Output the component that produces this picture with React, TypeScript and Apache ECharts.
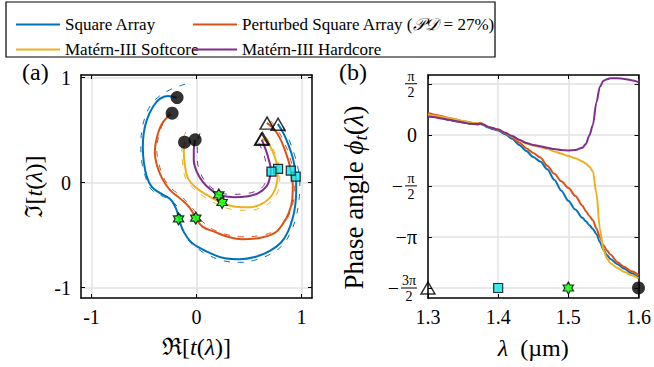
import React, { useEffect, useRef } from 'react';
import * as echarts from 'echarts';

const SERIF = "'Liberation Serif', 'Times New Roman', serif";
const colors = ['#0072BD', '#D95319', '#EDB120', '#7E2F8E'];
const seriesNames = ['Square Array', 'Perturbed Square Array', 'Matérn-III Softcore', 'Matérn-III Hardcore'];

// ---- Panel (a): complex transmission t(λ), solid curves ----
const squareRe = [0.774, 0.831, 0.879, 0.917, 0.936, 0.946, 0.950, 0.941, 0.917, 0.870, 0.803, 0.699, 0.565, 0.412, 0.270, 0.146, 0.030, -0.054, -0.121, -0.159, -0.178, -0.207, -0.254, -0.350, -0.426, -0.473, -0.502, -0.511, -0.502, -0.473, -0.416, -0.350, -0.273, -0.188];
const squareIm = [0.559, 0.464, 0.350, 0.235, 0.140, 0.054, -0.070, -0.212, -0.336, -0.470, -0.574, -0.650, -0.707, -0.731, -0.722, -0.679, -0.622, -0.565, -0.470, -0.374, -0.298, -0.222, -0.155, -0.098, -0.041, 0.054, 0.197, 0.340, 0.473, 0.597, 0.721, 0.797, 0.826, 0.807];
const perturbedRe = [0.670, 0.736, 0.793, 0.841, 0.879, 0.898, 0.917, 0.912, 0.879, 0.822, 0.746, 0.584, 0.431, 0.298, 0.174, 0.060, -0.007, -0.064, -0.140, -0.254, -0.330, -0.378, -0.397, -0.378, -0.330, -0.245];
const perturbedIm = [0.569, 0.511, 0.426, 0.311, 0.197, 0.111, -0.022, -0.165, -0.289, -0.394, -0.479, -0.531, -0.541, -0.517, -0.470, -0.422, -0.336, -0.241, -0.165, -0.070, 0.045, 0.169, 0.292, 0.426, 0.559, 0.654];
const softRe = [0.622, 0.679, 0.727, 0.760, 0.774, 0.770, 0.746, 0.698, 0.622, 0.508, 0.374, 0.241, 0.098, -0.016, -0.083, -0.111, -0.121, -0.114];
const softIm = [0.416, 0.378, 0.292, 0.197, 0.121, 0.026, -0.070, -0.146, -0.203, -0.236, -0.231, -0.193, -0.117, -0.041, 0.045, 0.169, 0.292, 0.385];
const hardRe = [0.622, 0.660, 0.689, 0.708, 0.698, 0.670, 0.593, 0.489, 0.365, 0.270, 0.212, 0.127, 0.060, 0.003, -0.026, -0.026, -0.013];
const hardIm = [0.407, 0.311, 0.216, 0.121, 0.045, -0.031, -0.098, -0.131, -0.141, -0.131, -0.117, -0.060, 0.007, 0.102, 0.216, 0.311, 0.407];

// ---- Panel (a): dashed companion curves ----
const squareDashRe = [0.822, 0.889, 0.936, 0.970, 0.984, 0.974, 0.946, 0.898, 0.822, 0.708, 0.565, 0.412, 0.260, 0.127, 0.012, -0.073, -0.130, -0.149, -0.168, -0.235, -0.350, -0.435, -0.483, -0.521, -0.530, -0.521, -0.492, -0.435, -0.350, -0.254, -0.159, -0.102];
const squareDashIm = [0.530, 0.388, 0.254, 0.121, -0.022, -0.184, -0.336, -0.470, -0.593, -0.679, -0.736, -0.760, -0.746, -0.698, -0.631, -0.555, -0.450, -0.336, -0.260, -0.174, -0.117, -0.060, 0.045, 0.197, 0.350, 0.492, 0.616, 0.740, 0.826, 0.883, 0.921, 0.940];
const perturbedDashRe = [0.708, 0.784, 0.841, 0.889, 0.917, 0.936, 0.927, 0.889, 0.822, 0.727, 0.584, 0.431, 0.298, 0.184, 0.079, 0.003, -0.064, -0.150, -0.254, -0.321, -0.359, -0.378, -0.359, -0.311, -0.254, -0.197];
const perturbedDashIm = [0.588, 0.483, 0.369, 0.245, 0.121, -0.012, -0.155, -0.289, -0.403, -0.470, -0.508, -0.517, -0.498, -0.460, -0.393, -0.298, -0.212, -0.127, -0.041, 0.064, 0.188, 0.311, 0.445, 0.578, 0.673, 0.730];
const softDashRe = [0.660, 0.717, 0.760, 0.789, 0.793, 0.774, 0.717, 0.631, 0.508, 0.374, 0.231, 0.089, -0.026, -0.102, -0.130, -0.140, -0.121, -0.092];
const softDashIm = [0.435, 0.350, 0.245, 0.140, 0.026, -0.089, -0.174, -0.231, -0.265, -0.260, -0.222, -0.146, -0.060, 0.035, 0.169, 0.311, 0.435, 0.502];
const hardDashRe = [0.593, 0.632, 0.660, 0.674, 0.660, 0.622, 0.546, 0.450, 0.346, 0.241, 0.146, 0.079, 0.031, 0.008, 0.008, 0.022, 0.050];
const hardDashIm = [0.378, 0.292, 0.197, 0.102, 0.016, -0.050, -0.089, -0.108, -0.112, -0.103, -0.050, 0.016, 0.111, 0.216, 0.330, 0.435, 0.511];

// ---- Panel (a): markers at λ = 1.3, 1.4, 1.5, 1.6 µm (one per array) ----
const triangle13 = [[0.777, 0.556], [0.672, 0.566], [0.619, 0.413], [0.628, 0.420]];
const square14 = [[0.945, 0.057], [0.898, 0.114], [0.777, 0.130], [0.714, 0.105]];
const star15 = [[-0.171, -0.346], [-0.007, -0.339], [0.244, -0.190], [0.212, -0.117]];
const circle16 = [[-0.185, 0.810], [-0.232, 0.661], [-0.114, 0.385], [-0.013, 0.407]];

// ---- Panel (b): phase angle vs wavelength ----
const lambda = [1.30, 1.31, 1.32, 1.33, 1.34, 1.35, 1.36, 1.37, 1.375, 1.38, 1.385, 1.39, 1.40, 1.41, 1.42, 1.43, 1.44, 1.45, 1.46, 1.47, 1.48, 1.49, 1.50, 1.51, 1.52, 1.525, 1.53, 1.535, 1.54, 1.545, 1.55, 1.555, 1.56, 1.57, 1.58, 1.59, 1.60];
const phaseSquare = [0.59, 0.56, 0.51, 0.46, 0.42, 0.38, 0.34, 0.32, 0.33, 0.29, 0.23, 0.19, 0.13, 0.02, -0.12, -0.31, -0.50, -0.68, -0.82, -1.06, -1.38, -1.72, -2.03, -2.30, -2.55, -2.66, -2.78, -2.90, -3.05, -3.30, -3.53, -3.70, -3.82, -3.98, -4.12, -4.26, -4.40];
const phasePerturbed = [0.67, 0.62, 0.57, 0.52, 0.47, 0.42, 0.38, 0.35, 0.36, 0.31, 0.25, 0.22, 0.16, 0.05, -0.08, -0.24, -0.41, -0.56, -0.70, -0.95, -1.20, -1.43, -1.63, -1.88, -2.18, -2.35, -2.50, -2.63, -2.88, -3.15, -3.40, -3.56, -3.68, -3.92, -4.07, -4.20, -4.32];
const phaseSoft = [0.62, 0.59, 0.55, 0.51, 0.47, 0.42, 0.38, 0.35, 0.36, 0.31, 0.25, 0.22, 0.16, 0.06, -0.05, -0.17, -0.27, -0.33, -0.38, -0.43, -0.51, -0.58, -0.65, -0.72, -0.82, -0.88, -0.98, -1.12, -1.80, -2.90, -3.55, -3.80, -3.95, -4.10, -4.22, -4.32, -4.42];
const phaseHard = [0.56, 0.54, 0.50, 0.46, 0.42, 0.38, 0.34, 0.33, 0.35, 0.31, 0.25, 0.22, 0.16, 0.06, -0.04, -0.15, -0.25, -0.31, -0.35, -0.40, -0.44, -0.47, -0.48, -0.47, -0.40, -0.28, -0.02, 0.30, 1.00, 1.48, 1.66, 1.71, 1.74, 1.74, 1.72, 1.68, 1.62];
const markerLambda = [1.3, 1.4, 1.5, 1.6];
const markerPhase = -4.712;

// tick values / labels
const reImTicks = [-1, 0, 1];
const reImTickLabels = ['-1', '0', '1'];
const lambdaTicks = [1.3, 1.4, 1.5, 1.6];
const lambdaTickLabels = ['1.3', '1.4', '1.5', '1.6'];
const phaseTickValues = [-1.5 * Math.PI, -Math.PI, -0.5 * Math.PI, 0, 0.5 * Math.PI];
// sign, numerator, denominator ('' = plain label)
const phaseTickSign = ['−', '−', '−', '', ''];
const phaseTickNum = ['3π', 'π', 'π', '0', 'π'];
const phaseTickDen = ['2', '', '2', '', '2'];

const zip = (a: number[], b: number[]) => a.map((v, i) => [v, b[i]]);

const HEXAGRAM = 'path://M0,-10L2.887,-5L8.66,-5L5.774,0L8.66,5L2.887,5L0,10L-2.887,5L-8.66,5L-5.774,0L-8.66,-5L-2.887,-5Z';

export default function App() {
  const ref = useRef<HTMLDivElement>(null);
  useEffect(() => {
    const chart = echarts.init(ref.current!, null, { renderer: 'svg' });

    const axisLine = { show: true, onZero: false, lineStyle: { color: '#000', width: 1.5 } };
    const gridLine = { show: true, lineStyle: { color: '#e2e2e2', width: 1.5 } };
    const tickBase = { show: true, inside: true, length: 4, lineStyle: { color: '#000', width: 1 } };
    const tickRich = { t: { fontFamily: SERIF, fontSize: 20, color: '#000' } };
    const nameRich = {
      r: { fontFamily: SERIF, fontSize: 24, color: '#000', lineHeight: 28 },
      i: { fontFamily: SERIF, fontSize: 24, fontStyle: 'italic', color: '#000', lineHeight: 28 },
    };

    const solidA = [
      zip(squareRe, squareIm), zip(perturbedRe, perturbedIm), zip(softRe, softIm), zip(hardRe, hardIm),
    ];
    const dashA = [
      zip(squareDashRe, squareDashIm), zip(perturbedDashRe, perturbedDashIm), zip(softDashRe, softDashIm), zip(hardDashRe, hardDashIm),
    ];
    const phases = [phaseSquare, phasePerturbed, phaseSoft, phaseHard];

    const series: any[] = [];
    dashA.forEach((d, k) => series.push({
      name: seriesNames[k] + ' (model)', type: 'line', xAxisIndex: 0, yAxisIndex: 0, data: d,
      smooth: 0.4, showSymbol: false, silent: true, z: 2,
      lineStyle: { color: colors[k], width: 1, type: [6, 8] },
    }));
    solidA.forEach((d, k) => series.push({
      name: seriesNames[k], type: 'line', xAxisIndex: 0, yAxisIndex: 0, data: d,
      smooth: 0.4, showSymbol: false, z: 3,
      itemStyle: { color: colors[k] },
      lineStyle: { color: colors[k], width: 2 },
    }));
    const markerSyms = [
      { symbol: 'triangle', symbolSize: [14, 12], itemStyle: { color: 'rgba(0,0,0,0)', borderColor: '#000', borderWidth: 1.5 } },
      { symbol: 'rect', symbolSize: 9, itemStyle: { color: '#12e4ee', borderColor: '#000', borderWidth: 1.2 } },
      { symbol: HEXAGRAM, symbolKeepAspect: true, symbolSize: 12, itemStyle: { color: '#00ff00', borderColor: '#000', borderWidth: 1.2 } },
      { symbol: 'circle', symbolSize: 13, itemStyle: { color: '#000' } },
    ];
    [triangle13, square14, star15, circle16].forEach((pts, k) => series.push({
      name: 'λ = ' + markerLambda[k] + ' µm', type: 'scatter', xAxisIndex: 0, yAxisIndex: 0, data: pts, z: 5,
      ...markerSyms[k],
    }));
    phases.forEach((p, k) => series.push({
      name: seriesNames[k], type: 'line', xAxisIndex: 2, yAxisIndex: 2, data: zip(lambda, p),
      smooth: 0.3, smoothMonotone: 'x', showSymbol: false, z: 3,
      itemStyle: { color: colors[k] },
      lineStyle: { color: colors[k], width: 2 },
    }));
    markerLambda.forEach((l, k) => series.push({
      name: 'marker ' + l, type: 'scatter', xAxisIndex: 2, yAxisIndex: 2, clip: false, z: 6,
      data: [[l, markerPhase]], ...markerSyms[k],
    }));

    const legendText = { fontFamily: SERIF, fontSize: 17, color: '#000', lineHeight: 17 };

    chart.setOption({
      animation: false,
      backgroundColor: '#fff',
      textStyle: { fontFamily: SERIF },
      grid: [
        { left: 81, top: 75, width: 231, height: 223 },
        { left: 428, top: 75, width: 211, height: 223 },
      ],
      legend: [
        {
          orient: 'vertical', left: 11, top: 11, itemWidth: 44, itemHeight: 2, itemGap: 8, icon: 'rect',
          data: ['Square Array', 'Matérn-III Softcore'],
          formatter: (name: string) => '{t|' + name + '}',
          textStyle: { ...legendText, rich: { t: legendText } },
        },
        {
          orient: 'vertical', left: 188, top: 11, itemWidth: 44, itemHeight: 2, itemGap: 8, icon: 'rect',
          data: ['Perturbed Square Array', 'Matérn-III Hardcore'],
          formatter: (name: string) => name === 'Perturbed Square Array'
            ? '{t|Perturbed Square Array (}{s|𝒫𝒟}{t| = 27%)}' : '{t|' + name + '}',
          textStyle: {
            ...legendText,
            rich: { t: legendText, s: { ...legendText, fontStyle: 'italic' } },
          },
        },
      ],
      xAxis: [
        {
          gridIndex: 0, type: 'value', min: -1.1, max: 1.1, axisLine,
          axisTick: { ...tickBase, customValues: reImTicks },
          axisLabel: { margin: 9, customValues: reImTicks, rich: tickRich, formatter: (v: number) => '{t|' + (reImTickLabels[reImTicks.indexOf(v)] ?? '') + '}' },
          splitLine: gridLine,
          name: '{r|ℜ[}{i|t}{r|(}{i|λ}{r|)]}', nameLocation: 'middle', nameGap: 35,
          nameTextStyle: { rich: nameRich },
        },
        {
          gridIndex: 0, type: 'value', position: 'top', min: -1.1, max: 1.1, axisLine,
          axisTick: { ...tickBase, customValues: reImTicks }, axisLabel: { show: false }, splitLine: { show: false },
        },
        {
          gridIndex: 1, type: 'value', min: 1.3, max: 1.6, interval: 0.1, axisLine,
          axisTick: { ...tickBase, customValues: lambdaTicks },
          axisLabel: { margin: 9, customValues: lambdaTicks, rich: tickRich, formatter: (v: number) => '{t|' + (lambdaTickLabels[lambdaTicks.findIndex((t) => Math.abs(t - v) < 1e-6)] ?? '') + '}' },
          splitLine: gridLine,
          name: '{i|λ}{r|  (µm)}', nameLocation: 'middle', nameGap: 36,
          nameTextStyle: { rich: nameRich },
        },
        {
          gridIndex: 1, type: 'value', position: 'top', min: 1.3, max: 1.6, interval: 0.1, axisLine,
          axisTick: { ...tickBase, customValues: lambdaTicks }, axisLabel: { show: false }, splitLine: { show: false },
        },
      ],
      yAxis: [
        {
          gridIndex: 0, type: 'value', min: -1.1, max: 1.025, axisLine,
          axisTick: { ...tickBase, customValues: reImTicks },
          axisLabel: { margin: 10, customValues: reImTicks, rich: tickRich, formatter: (v: number) => '{t|' + (reImTickLabels[reImTicks.indexOf(v)] ?? '') + '}' },
          splitLine: gridLine,
          name: '{r|ℑ[}{i|t}{r|(}{i|λ}{r|)]}', nameLocation: 'middle', nameGap: 33,
          nameTextStyle: { rich: nameRich },
        },
        {
          gridIndex: 0, type: 'value', position: 'right', min: -1.1, max: 1.025, axisLine,
          axisTick: { ...tickBase, customValues: reImTicks }, axisLabel: { show: false }, splitLine: { show: false },
        },
        {
          gridIndex: 1, type: 'value', min: -5.02, max: 1.84, axisLine,
          axisTick: { ...tickBase, customValues: phaseTickValues },
          axisLabel: { show: false, customValues: phaseTickValues },
          splitLine: gridLine,
          name: '{r|Phase angle }{i|ϕ}{s|t}{r|(}{i|λ}{r|)}', nameLocation: 'middle', nameGap: 58,
          nameTextStyle: {
            padding: [0, 22, 0, 0],
            rich: {
              r: { fontFamily: SERIF, fontSize: 27, color: '#000', lineHeight: 32 },
              i: { fontFamily: SERIF, fontSize: 27, fontStyle: 'italic', color: '#000', lineHeight: 32 },
              s: { fontFamily: SERIF, fontSize: 19, fontStyle: 'italic', color: '#000', lineHeight: 19, verticalAlign: 'bottom' },
            },
          },
        },
        {
          gridIndex: 1, type: 'value', position: 'right', min: -5.02, max: 1.84, axisLine,
          axisTick: { ...tickBase, customValues: phaseTickValues }, axisLabel: { show: false }, splitLine: { show: false },
        },
      ],
      series,
    });

    // phase-axis tick labels (stacked fractions), placed through the axis scale
    const axisX = chart.convertToPixel({ xAxisIndex: 2 }, 1.3) as number;
    const right = axisX - 11;
    const graphics: any[] = [
      { type: 'rect', shape: { x: 6, y: 2, width: 489, height: 55 }, style: { fill: 'none', stroke: '#000', lineWidth: 1.2 }, z: 10 },
      { type: 'text', x: 22, y: 60, style: { text: '(a)', fontFamily: SERIF, fontSize: 24, fill: '#000' } },
      { type: 'text', x: 339, y: 60, style: { text: '(b)', fontFamily: SERIF, fontSize: 24, fill: '#000' } },
    ];
    const txt = (text: string, x: number, y: number, size: number, align: string) => ({
      type: 'text', x, y,
      style: { text, fontFamily: SERIF, fontSize: size, fill: '#000', align, verticalAlign: 'middle', textAlign: align, textVerticalAlign: 'middle' },
    });
    phaseTickValues.forEach((v, i) => {
      const y = chart.convertToPixel({ yAxisIndex: 2 }, v) as number;
      if (!phaseTickDen[i]) {
        graphics.push(txt(phaseTickSign[i] + phaseTickNum[i], right, y, 20, 'right'));
        return;
      }
      const w = phaseTickNum[i].length > 1 ? 16 : 12;
      const cx = right - w / 2;
      graphics.push(txt(phaseTickNum[i], cx, y - 7.5, 14, 'center'));
      graphics.push({ type: 'line', shape: { x1: cx - w / 2, y1: y, x2: cx + w / 2, y2: y }, style: { stroke: '#000', lineWidth: 1 } });
      graphics.push(txt(phaseTickDen[i], cx, y + 8.5, 14, 'center'));
      if (phaseTickSign[i]) graphics.push(txt(phaseTickSign[i], cx - w / 2 - 2, y, 20, 'right'));
    });
    chart.setOption({ graphic: graphics });

    return () => chart.dispose();
  }, []);
  return <div ref={ref} style={{ position: 'absolute', left: 0, top: 0, width: 654, height: 367 }} />;
}
